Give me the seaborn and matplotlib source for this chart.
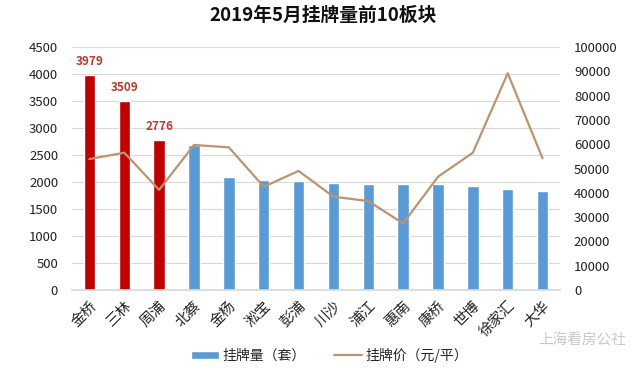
import numpy as np
import pandas as pd
import matplotlib
matplotlib.use('Agg')
import matplotlib.pyplot as plt
import seaborn as sns
from matplotlib.patches import Patch
from matplotlib.lines import Line2D

sns.set_theme(style='white')
plt.rcParams['font.family'] = ['Noto Sans CJK SC', 'DejaVu Sans']

# données
bankuai = ['金桥', '三林', '周浦', '北蔡', '金杨', '淞宝', '彭浦', '川沙', '浦江', '惠南', '康桥', '世博', '徐家汇', '大华']
guapai_liang = [3979, 3509, 2776, 2690, 2095, 2040, 2020, 1975, 1955, 1955, 1955, 1920, 1870, 1840]
guapai_jia = [53900, 56500, 41200, 59700, 58700, 42500, 49000, 38400, 36600, 27400, 46600, 56500, 89200, 54200]
top_n = 3

red = '#C00000'
blue = '#5B9BD5'
line_col = '#BC9470'

df = pd.DataFrame({'bankuai': bankuai, 'liang': guapai_liang, 'jia': guapai_jia})
df['pos'] = np.arange(len(df))
palette = [red] * top_n + [blue] * (len(df) - top_n)

fig = plt.figure(figsize=(6.4, 3.74), dpi=100)
ax = fig.add_axes([0.1125, 0.2246, 0.7625, 0.6497])
ax2 = ax.twinx()

sns.barplot(data=df, x='bankuai', y='liang', hue='bankuai', palette=palette,
            width=0.33, legend=False, ax=ax, saturation=1, zorder=2)
sns.lineplot(data=df, x='pos', y='jia', color=line_col, linewidth=1.6, ax=ax2, zorder=3)

# étiquettes des 3 premiers
for i in range(top_n):
    ax.annotate(str(guapai_liang[i]), (i, guapai_liang[i]), xytext=(0, 5),
                textcoords='offset points', ha='center', va='bottom',
                fontsize=8.5, fontweight='bold', color='#C0392B')

ax.set_xlim(-0.5, len(df) - 0.5)
ax.set_ylim(0, 4500)
ax.set_yticks(np.arange(0, 4501, 500))
ax2.set_ylim(0, 100000)
ax2.set_yticks(np.arange(0, 100001, 10000))
ax.yaxis.grid(True, color='#D9D9D9', linewidth=0.8)
ax.set_axisbelow(True)
ax.set_xlabel('')
ax.set_ylabel('')
ax2.set_xlabel('')
ax2.set_ylabel('')

for a in (ax, ax2):
    for s in a.spines.values():
        s.set_visible(False)
    a.tick_params(length=0, labelsize=9.5, colors='#222222')
ax.spines['bottom'].set_visible(True)
ax.spines['bottom'].set_color('#D9D9D9')
ax.tick_params(axis='y', pad=10)
ax2.tick_params(axis='y', pad=10)
ax.tick_params(axis='x', pad=6, labelsize=10.5)
plt.setp(ax.get_xticklabels(), rotation=45, ha='right', rotation_mode='anchor')

fig.suptitle('2019年5月挂牌量前10板块', x=0.505, y=0.985, fontsize=13.5, fontweight='bold', color='#111111')

handles = [Patch(facecolor=blue, label='挂牌量（套）'),
           Line2D([0], [0], color=line_col, linewidth=1.6, label='挂牌价（元/平）')]
fig.legend(handles=handles, loc='center', bbox_to_anchor=(0.515, 0.05), ncol=2,
           frameon=False, fontsize=10, handlelength=2.0, handleheight=0.6,
           handletextpad=0.3, columnspacing=2.0)

fig.text(0.91, 0.09, '上海看房公社', fontsize=10.5, color='#C8C8C8', ha='center', va='center')

fig.savefig('out.png', dpi=100)
